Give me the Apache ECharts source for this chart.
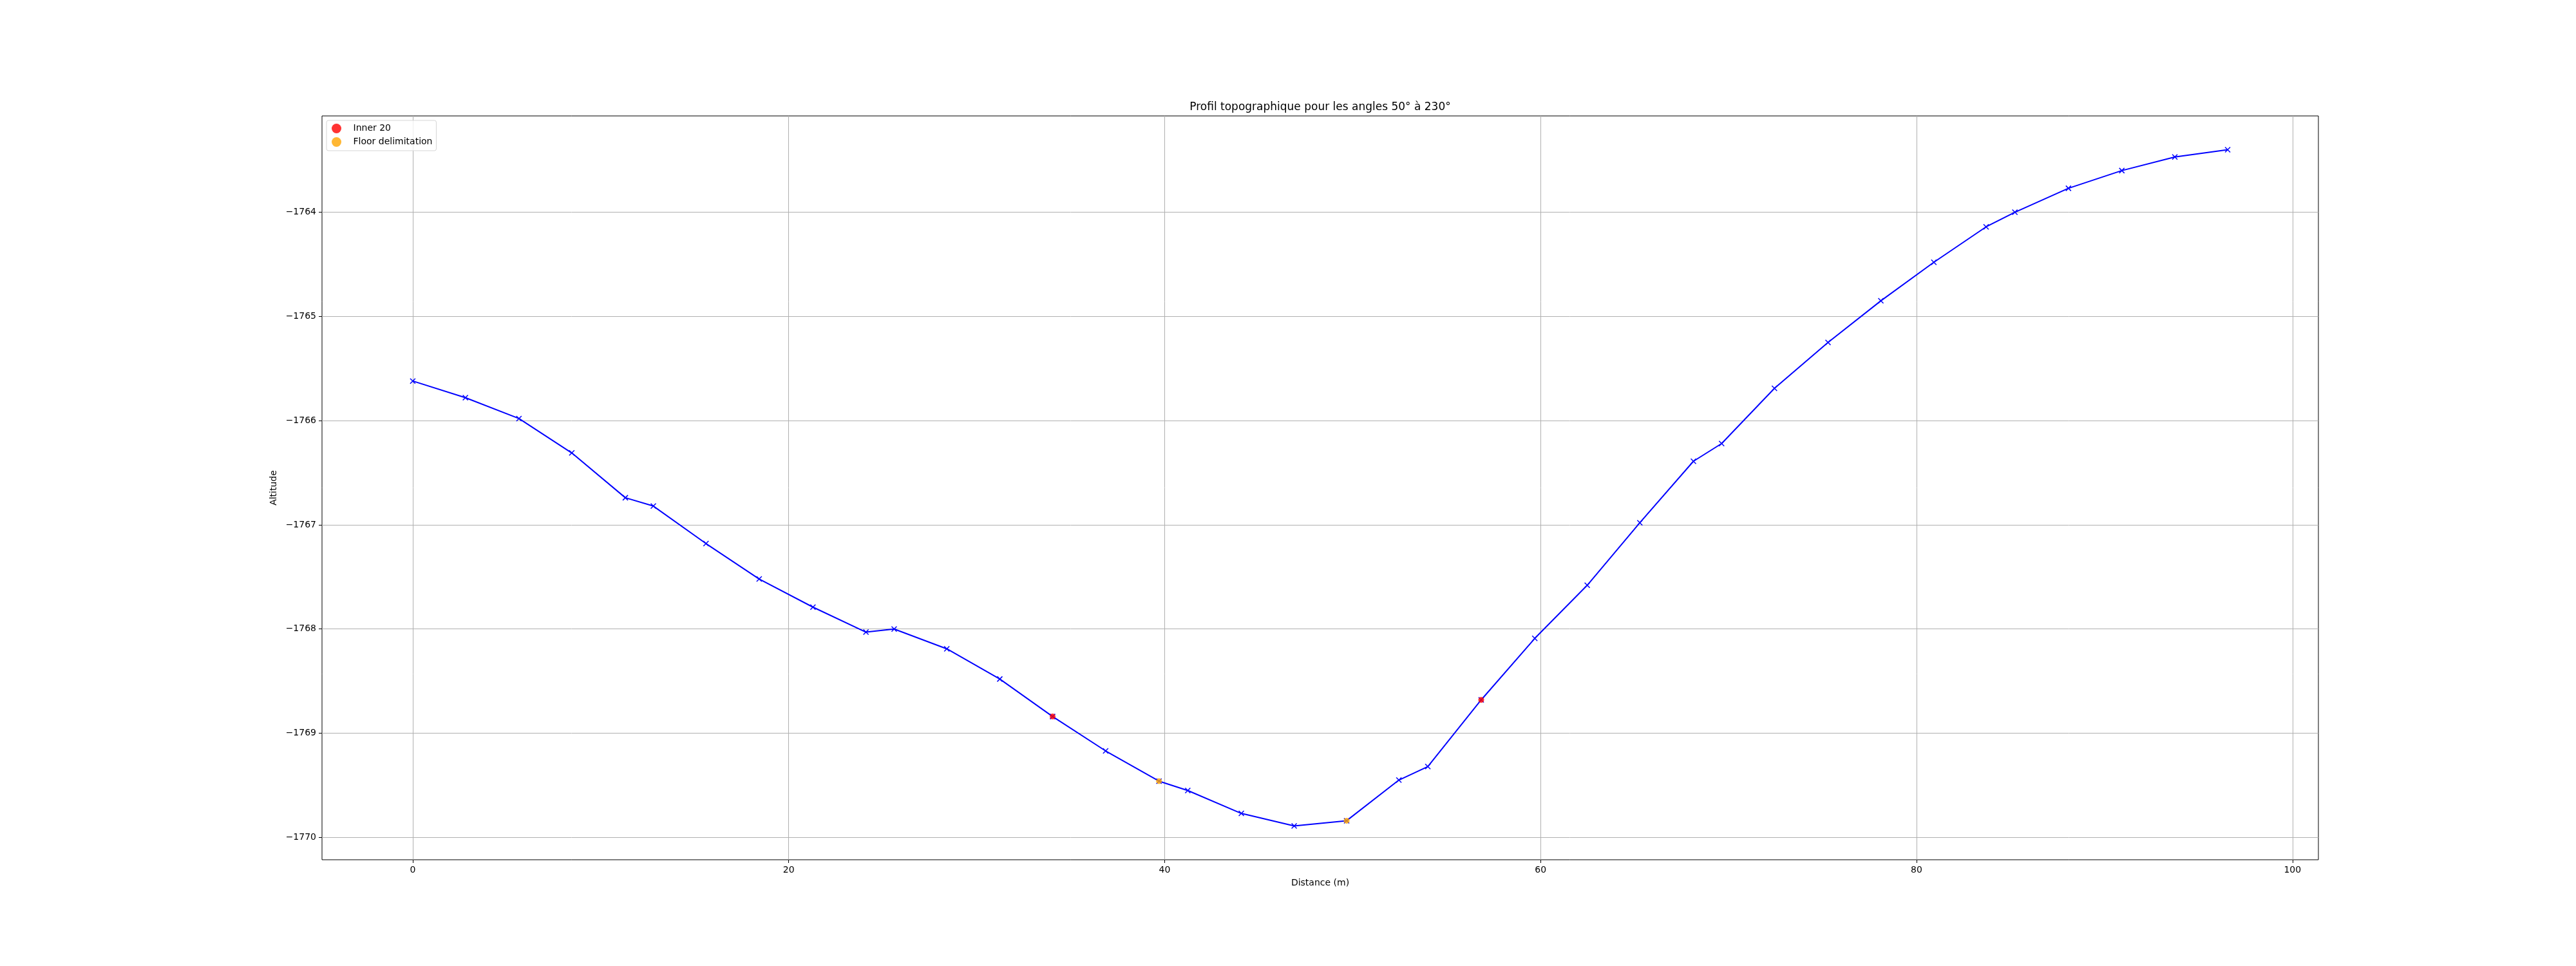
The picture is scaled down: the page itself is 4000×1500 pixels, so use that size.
<!DOCTYPE html>
<html lang="fr">
<head>
    <meta charset="UTF-8">
    <title>Profil topographique</title>
    <script src="https://cdn.jsdelivr.net/npm/echarts@6/dist/echarts.min.js"></script>
</head>
<body style="margin:0;">
<div id="main" style="width: 4000px;height:1500px;"></div>
<script type="text/javascript">
    // profil : distance (m) / altitude
    var distances = [0, 2.80, 5.65, 8.46, 11.31, 12.80, 15.60, 18.43, 21.29, 24.11,
        25.61, 28.41, 31.23, 34.04, 36.86, 39.70, 41.23, 44.08, 46.89, 49.68,
        52.46, 54.00, 56.84, 59.69, 62.48, 65.28, 68.13, 69.63, 72.44, 75.29,
        78.10, 80.92, 83.70, 85.23, 88.08, 90.92, 93.74, 96.55];
    var altitudes = [-1765.62, -1765.78, -1765.98, -1766.31, -1766.74, -1766.82, -1767.18, -1767.52, -1767.79, -1768.03,
        -1768.00, -1768.19, -1768.48, -1768.84, -1769.17, -1769.46, -1769.55, -1769.77, -1769.89, -1769.84,
        -1769.45, -1769.32, -1768.68, -1768.09, -1767.58, -1766.98, -1766.39, -1766.22, -1765.69, -1765.25,
        -1764.85, -1764.48, -1764.14, -1764.00, -1763.77, -1763.60, -1763.47, -1763.40];

    // points particuliers
    var inner20X = [34.04, 56.84];
    var inner20Y = [-1768.84, -1768.68];
    var floorX = [39.70, 49.68];
    var floorY = [-1769.46, -1769.84];

    // graduations
    var xTicks = [0, 20, 40, 60, 80, 100];
    var yTicks = [-1770, -1769, -1768, -1767, -1766, -1765, -1764];

    function pairs(xs, ys) {
        var out = [];
        for (var i = 0; i < xs.length; i++) out.push([xs[i], ys[i]]);
        return out;
    }
    // marges 5% comme matplotlib
    function limits(arr) {
        var lo = Math.min.apply(null, arr), hi = Math.max.apply(null, arr);
        var m = (hi - lo) * 0.05;
        return [lo - m, hi + m];
    }
    var xl = limits(distances), yl = limits(altitudes);
    var font = 'DejaVu Sans';

    var myChart = echarts.init(document.getElementById('main'));
    var option = {
        animation: false,
        backgroundColor: '#fff',
        title: {
            text: 'Profil topographique pour les angles 50° à 230°',
            left: 2050,
            textAlign: 'center',
            top: 158,
            padding: 0,
            textStyle: {fontFamily: font, fontSize: 17, fontWeight: 'normal', color: '#000'}
        },
        legend: {
            data: ['Inner 20', 'Floor delimitation'],
            orient: 'vertical',
            left: 507,
            top: 187,
            padding: [5, 6, 6, 8],
            itemWidth: 42,
            itemHeight: 15,
            itemGap: 6,
            icon: 'circle',
            borderColor: '#d5d5d5',
            borderWidth: 1,
            borderRadius: 3,
            backgroundColor: 'rgba(255,255,255,0.8)',
            textStyle: {fontFamily: font, fontSize: 14, color: '#000'}
        },
        grid: {
            left: 500, right: 400, top: 180, bottom: 165,
            show: true, borderColor: '#000', borderWidth: 1
        },
        xAxis: {
            type: 'value',
            min: xl[0], max: xl[1],
            name: 'Distance (m)',
            nameLocation: 'middle',
            nameGap: 29,
            nameTextStyle: {fontFamily: font, fontSize: 14, color: '#000'},
            axisLine: {show: false, onZero: false},
            axisTick: {show: true, inside: false, length: 5, customValues: xTicks, lineStyle: {color: '#000'}},
            axisLabel: {fontFamily: font, fontSize: 14, color: '#000', margin: 9, customValues: xTicks},
            splitLine: {show: true, lineStyle: {color: '#b0b0b0', width: 1}}
        },
        yAxis: {
            type: 'value',
            min: yl[0], max: yl[1],
            name: 'Altitude',
            nameLocation: 'middle',
            nameGap: 63,
            nameTextStyle: {fontFamily: font, fontSize: 14, color: '#000'},
            axisLine: {show: false, onZero: false},
            axisTick: {show: true, inside: false, length: 5, customValues: yTicks, lineStyle: {color: '#000'}},
            axisLabel: {
                fontFamily: font, fontSize: 14, color: '#000', margin: 9, customValues: yTicks,
                formatter: function (v) { return v < 0 ? '\u2212' + Math.abs(v) : '' + v; }
            },
            splitLine: {show: true, lineStyle: {color: '#b0b0b0', width: 1}}
        },
        series: [
            {
                name: 'Profil',
                type: 'line',
                data: pairs(distances, altitudes),
                symbol: 'path://M0,0L10,10M10,0L0,10',
                symbolSize: 8,
                showAllSymbol: true,
                lineStyle: {color: '#0000ff', width: 2},
                itemStyle: {color: 'rgba(0,0,0,0)', borderColor: '#0000ff', borderWidth: 1.5},
                z: 2
            },
            {
                name: 'Inner 20',
                type: 'scatter',
                data: pairs(inner20X, inner20Y),
                symbol: 'circle',
                symbolSize: 9,
                itemStyle: {color: '#ff0000'},
                z: 3
            },
            {
                name: 'Floor delimitation',
                type: 'scatter',
                data: pairs(floorX, floorY),
                symbol: 'circle',
                symbolSize: 9,
                itemStyle: {color: '#ffa500'},
                z: 3
            }
        ]
    };
    myChart.setOption(option);
</script>
</body>
</html>
